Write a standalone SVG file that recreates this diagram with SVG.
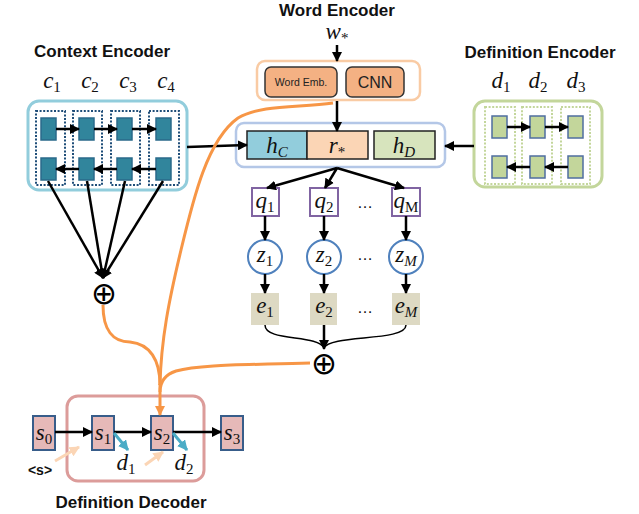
<svg xmlns="http://www.w3.org/2000/svg" width="639" height="514" viewBox="0 0 639 514">
<style>
.title{font-family:"Liberation Sans",Arial,sans-serif;font-weight:bold;font-size:17px;text-anchor:middle;fill:#111}
.m{font-family:"Liberation Serif","DejaVu Serif",serif;font-style:italic;font-size:23px;text-anchor:middle;fill:#111}
.sb{font-style:normal;font-size:15px}
.si{font-size:15px}
.ar{stroke:#000;stroke-width:2.5;fill:none;marker-end:url(#ah)}
.ctx{fill:#31859c;stroke:#2a6a8a;stroke-width:1.5}
.cdot{fill:none;stroke:#1f4e79;stroke-width:2;stroke-dasharray:2 1.6}
.gdot{fill:none;stroke:#c3d69b;stroke-width:2;stroke-dasharray:2 1.6}
.grn{fill:#c3d69b;stroke:#4f6ea0;stroke-width:1.5}
.qb{fill:#fff;stroke:#8064a2;stroke-width:2}
.zc{fill:#fff;stroke:#4f81bd;stroke-width:2}
.eb{fill:#ddd9c3}
.sbx{fill:#e6b9b8;stroke:#385d8a;stroke-width:2}
.or{stroke:#f79646;stroke-width:3;fill:none}
.dots{font-family:"Liberation Sans",Arial,sans-serif;font-size:16px;text-anchor:middle;fill:#111}
.oplus{font-family:"DejaVu Sans",sans-serif;font-size:31px;text-anchor:middle;fill:#000}
</style>
<defs>
<marker id="ah" viewBox="0 0 10 10" refX="9" refY="5" markerWidth="4" markerHeight="4" orient="auto" markerUnits="strokeWidth"><path d="M0,0 L10,5 L0,10 z" fill="#000"/></marker>
<marker id="ao" viewBox="0 0 10 10" refX="9" refY="5" markerWidth="3.5" markerHeight="3.5" orient="auto" markerUnits="strokeWidth"><path d="M0,0 L10,5 L0,10 z" fill="#f79646"/></marker>
<marker id="at" viewBox="0 0 10 10" refX="9" refY="5" markerWidth="3.5" markerHeight="3.5" orient="auto" markerUnits="strokeWidth"><path d="M0,0 L10,5 L0,10 z" fill="#4bacc6"/></marker>
<marker id="ap" viewBox="0 0 10 10" refX="9" refY="5" markerWidth="3.5" markerHeight="3.5" orient="auto" markerUnits="strokeWidth"><path d="M0,0 L10,5 L0,10 z" fill="#fbd5b5"/></marker>
</defs>

<!-- Context Encoder -->
<g id="context-encoder">
<text class="title" x="102" y="57">Context Encoder</text>
<text class="m" x="52" y="88">c<tspan class="sb" dy="4">1</tspan></text>
<text class="m" x="90" y="88">c<tspan class="sb" dy="4">2</tspan></text>
<text class="m" x="128" y="88">c<tspan class="sb" dy="4">3</tspan></text>
<text class="m" x="166" y="88">c<tspan class="sb" dy="4">4</tspan></text>
<rect x="28" y="101" width="159" height="89" rx="11" fill="#fff" stroke="#92cddc" stroke-width="3"/>
<rect class="cdot" x="36" y="111" width="29" height="74"/>
<rect class="cdot" x="73" y="111" width="29" height="74"/>
<rect class="cdot" x="111" y="111" width="29" height="74"/>
<rect class="cdot" x="149" y="111" width="30" height="74"/>
<rect class="ctx" x="41" y="118" width="15" height="22"/>
<rect class="ctx" x="79" y="118" width="15" height="22"/>
<rect class="ctx" x="117" y="118" width="15" height="22"/>
<rect class="ctx" x="156" y="118" width="15" height="22"/>
<rect class="ctx" x="41" y="158" width="15" height="22"/>
<rect class="ctx" x="79" y="158" width="15" height="22"/>
<rect class="ctx" x="117" y="158" width="15" height="22"/>
<rect class="ctx" x="156" y="158" width="15" height="22"/>
<line class="ar" x1="56" y1="129" x2="79" y2="129"/>
<line class="ar" x1="94" y1="129" x2="117" y2="129"/>
<line class="ar" x1="132" y1="129" x2="156" y2="129"/>
<line class="ar" x1="79" y1="169" x2="56" y2="169"/>
<line class="ar" x1="117" y1="169" x2="94" y2="169"/>
<line class="ar" x1="156" y1="169" x2="132" y2="169"/>
</g>

<!-- Word Encoder -->
<g id="word-encoder">
<text class="title" x="337" y="16">Word Encoder</text>
<text class="m" x="337" y="39">w<tspan class="sb" dy="4">*</tspan></text>
<rect x="257" y="61" width="163" height="39" rx="8" fill="#fff" stroke="#f9cba4" stroke-width="2.5"/>
<rect x="265" y="67" width="72" height="30" rx="6" fill="#f4b183" stroke="#333" stroke-width="1.5"/>
<text x="301" y="86" font-family="Liberation Sans,Arial,sans-serif" font-size="10.5" text-anchor="middle" fill="#222">Word Emb.</text>
<rect x="346" y="67" width="58" height="30" rx="6" fill="#f4b183" stroke="#333" stroke-width="1.5"/>
<text x="375" y="88" font-family="Liberation Sans,Arial,sans-serif" font-size="16" text-anchor="middle" fill="#222">CNN</text>
</g>

<!-- Representation -->
<g id="representation">
<rect x="236" y="123" width="209" height="44" rx="8" fill="#fff" stroke="#b4c7e7" stroke-width="2.5"/>
<rect x="247" y="131" width="60" height="28" fill="#92cddc" stroke="#222" stroke-width="1.5"/>
<text class="m" x="277" y="153">h<tspan class="si" dy="4">C</tspan></text>
<rect x="307" y="131" width="61" height="28" fill="#fbd5b5" stroke="#222" stroke-width="1.5"/>
<text class="m" x="337" y="153">r<tspan class="sb" dy="4">*</tspan></text>
<rect x="374" y="131" width="61" height="28" fill="#d7e4bd" stroke="#222" stroke-width="1.5"/>
<text class="m" x="404" y="153">h<tspan class="si" dy="4">D</tspan></text>
</g>

<!-- Definition Encoder -->
<g id="definition-encoder">
<text class="title" x="540" y="58">Definition Encoder</text>
<text class="m" x="501" y="88">d<tspan class="sb" dy="4">1</tspan></text>
<text class="m" x="538" y="88">d<tspan class="sb" dy="4">2</tspan></text>
<text class="m" x="576" y="88">d<tspan class="sb" dy="4">3</tspan></text>
<rect x="474" y="101" width="128" height="86" rx="11" fill="#fff" stroke="#c3d69b" stroke-width="3"/>
<rect class="gdot" x="485" y="107" width="30" height="77"/>
<rect class="gdot" x="522" y="107" width="30" height="77"/>
<rect class="gdot" x="561" y="107" width="29" height="77"/>
<rect class="grn" x="492" y="116" width="15" height="22"/>
<rect class="grn" x="530" y="116" width="15" height="22"/>
<rect class="grn" x="568" y="116" width="15" height="22"/>
<rect class="grn" x="492" y="156" width="15" height="22"/>
<rect class="grn" x="530" y="156" width="15" height="22"/>
<rect class="grn" x="568" y="156" width="15" height="22"/>
<line class="ar" x1="507" y1="127" x2="530" y2="127"/>
<line class="ar" x1="545" y1="127" x2="568" y2="127"/>
<line class="ar" x1="530" y1="167" x2="507" y2="167"/>
<line class="ar" x1="568" y1="167" x2="545" y2="167"/>
</g>

<!-- q, z, e nodes -->
<g id="q1"><rect class="qb" x="252" y="188" width="27" height="28"/><text class="m" x="265" y="208">q<tspan class="sb" dy="4">1</tspan></text></g>
<g id="q2"><rect class="qb" x="310" y="188" width="28" height="28"/><text class="m" x="324" y="208">q<tspan class="sb" dy="4">2</tspan></text></g>
<g id="qM"><rect class="qb" x="392" y="188" width="28" height="28"/><text class="m" x="406" y="208">q<tspan class="sb" dy="4">M</tspan></text></g>
<g id="z1"><circle class="zc" cx="265" cy="257" r="17"/><text class="m" x="265" y="262">z<tspan class="sb" dy="4">1</tspan></text></g>
<g id="z2"><circle class="zc" cx="324" cy="257" r="17"/><text class="m" x="324" y="262">z<tspan class="sb" dy="4">2</tspan></text></g>
<g id="zM"><circle class="zc" cx="406" cy="257" r="17"/><text class="m" x="406" y="262">z<tspan class="si" dy="4">M</tspan></text></g>
<g id="e1"><rect class="eb" x="251" y="293" width="28" height="32"/><text class="m" x="265" y="313">e<tspan class="sb" dy="4">1</tspan></text></g>
<g id="e2"><rect class="eb" x="310" y="293" width="27" height="32"/><text class="m" x="324" y="313">e<tspan class="sb" dy="4">2</tspan></text></g>
<g id="eM"><rect class="eb" x="392" y="293" width="28" height="32"/><text class="m" x="406" y="313">e<tspan class="si" dy="4">M</tspan></text></g>
<g id="ellipses">
<text class="dots" x="365" y="208">…</text>
<text class="dots" x="365" y="260">…</text>
<text class="dots" x="365" y="313">…</text>
</g>

<!-- sum nodes -->
<g id="sum-context"><text class="oplus" x="104" y="304">⊕</text></g>
<g id="sum-latent"><text class="oplus" x="324" y="374">⊕</text></g>

<!-- Definition Decoder -->
<g id="definition-decoder">
<rect x="67" y="396" width="137" height="85" rx="11" fill="none" stroke="#dc9c9a" stroke-width="3"/>
<text class="title" x="131" y="508">Definition Decoder</text>
</g>
<g id="s0"><rect class="sbx" x="33" y="416" width="22" height="34"/><text class="m" x="44" y="440">s<tspan class="sb" dy="4">0</tspan></text></g>
<g id="s1"><rect class="sbx" x="92" y="416" width="22" height="34"/><text class="m" x="103" y="440">s<tspan class="sb" dy="4">1</tspan></text></g>
<g id="s2"><rect class="sbx" x="151" y="416" width="22" height="34"/><text class="m" x="162" y="440">s<tspan class="sb" dy="4">2</tspan></text></g>
<g id="s3"><rect class="sbx" x="221" y="416" width="22" height="34"/><text class="m" x="232" y="440">s<tspan class="sb" dy="4">3</tspan></text></g>
<g id="start-token"><text x="40" y="475" font-family="Liberation Sans,Arial,sans-serif" font-weight="bold" font-size="14" text-anchor="middle" fill="#111">&lt;s&gt;</text></g>
<g id="out-d1"><text class="m" x="126" y="470">d<tspan class="sb" dy="4">1</tspan></text></g>
<g id="out-d2"><text class="m" x="184" y="470">d<tspan class="sb" dy="4">2</tspan></text></g>

<!-- connectors -->
<g id="connectors">
<line class="ar" x1="337" y1="45" x2="337" y2="61"/>
<line class="ar" x1="337" y1="101" x2="337" y2="131"/>
<line class="ar" x1="187" y1="147" x2="247" y2="145"/>
<line class="ar" x1="474" y1="146" x2="445" y2="146"/>
<line class="ar" x1="337" y1="168" x2="267" y2="188"/>
<line class="ar" x1="337" y1="168" x2="325" y2="188"/>
<line class="ar" x1="337" y1="168" x2="404" y2="188"/>
<line class="ar" x1="265" y1="216" x2="265" y2="240"/>
<line class="ar" x1="324" y1="216" x2="324" y2="240"/>
<line class="ar" x1="406" y1="216" x2="406" y2="240"/>
<line class="ar" x1="265" y1="274" x2="265" y2="293"/>
<line class="ar" x1="324" y1="274" x2="324" y2="293"/>
<line class="ar" x1="406" y1="274" x2="406" y2="293"/>
<path d="M265,325 C265,342 318,334 324,348" fill="none" stroke="#000" stroke-width="1.5"/>
<path d="M406,325 C406,342 330,334 324,348" fill="none" stroke="#000" stroke-width="1.5"/>
<line class="ar" x1="324" y1="325" x2="324" y2="349"/>
<line class="ar" x1="48" y1="181" x2="103" y2="278"/>
<line class="ar" x1="87" y1="181" x2="103" y2="278"/>
<line class="ar" x1="125" y1="181" x2="103" y2="278"/>
<line class="ar" x1="163" y1="181" x2="103" y2="278"/>
<path class="or" d="M333,103 C300,108 262,104 238,118 C207,140 193,200 181,250 C169,300 161,340 160,385"/>
<path class="or" d="M103,305 C103,330 113,342 130,342 C150,344 160,360 160,385"/>
<path class="or" d="M310,363 C250,365 200,364 176,371 C164,375 160,382 160,392"/>
<path class="or" d="M160,384 L160,415" marker-end="url(#ao)"/>
<line class="ar" x1="55" y1="432" x2="92" y2="432"/>
<line class="ar" x1="114" y1="432" x2="151" y2="432"/>
<line class="ar" x1="173" y1="432" x2="221" y2="432"/>
<line x1="114" y1="433" x2="128" y2="450" stroke="#4bacc6" stroke-width="3" marker-end="url(#at)"/>
<line x1="173" y1="433" x2="187" y2="450" stroke="#4bacc6" stroke-width="3" marker-end="url(#at)"/>
<line x1="55" y1="461" x2="79" y2="447" stroke="#fbd5b5" stroke-width="3" marker-end="url(#ap)"/>
<line x1="145" y1="465" x2="163" y2="452" stroke="#fbd5b5" stroke-width="3" marker-end="url(#ap)"/>
</g>
</svg>
